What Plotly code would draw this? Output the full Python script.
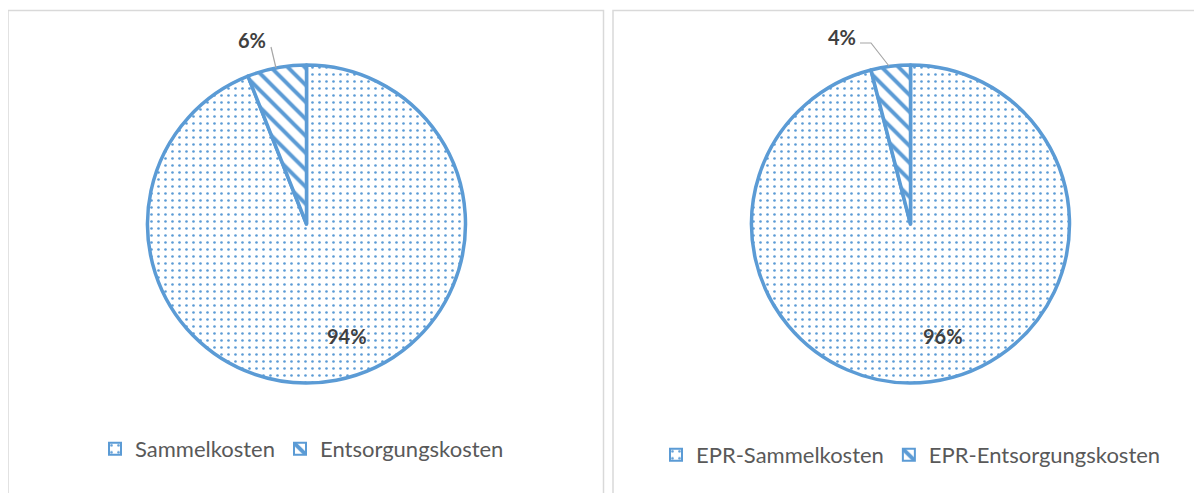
import plotly.graph_objects as go

left_labels = ["Sammelkosten", "Entsorgungskosten"]
left_values = [94, 6]
right_labels = ["EPR-Sammelkosten", "EPR-Entsorgungskosten"]
right_values = [96, 4]

# page has an 8px body margin, so the figure starts at (8, 8)
OFF = 8
W, H = 1202 - OFF, 493 - OFF
BLUE = "#5B9BD5"
LABEL_COLOR = "#404040"
LEGEND_COLOR = "#595959"
FONT = "Lato"

def px_x(x):
    return (x - OFF) / W

def px_y(y):
    return 1 - (y - OFF) / H

def pct(vals):
    tot = sum(vals)
    return [f"{round(v / tot * 100)}%" for v in vals]

def make_pie(labels, values, cx, cy, r, legend):
    return go.Pie(
        labels=labels,
        values=values,
        sort=False,
        direction="clockwise",
        rotation=0,
        textinfo="none",
        hoverinfo="label+percent",
        domain=dict(x=[px_x(cx - r), px_x(cx + r)], y=[px_y(cy + r), px_y(cy - r)]),
        marker=dict(
            colors=["white", "white"],
            line=dict(color=BLUE, width=3.5),
            pattern=dict(
                shape=[".", "\\"],
                fgcolor=BLUE,
                bgcolor="white",
                size=[7, 12],
                solidity=[0.11, 0.33],
                fillmode="replace",
            ),
        ),
        legend=legend,
    )

fig = go.Figure()
fig.add_trace(make_pie(left_labels, left_values, 306.5, 224, 159, "legend"))
fig.add_trace(make_pie(right_labels, right_values, 910.5, 224, 159, "legend2"))

lp = pct(left_values)
rp = pct(right_values)

annotations = [
    dict(x=px_x(347), y=px_y(336), text=f"<b>{lp[0]}</b>"),
    dict(x=px_x(252), y=px_y(40), text=f"<b>{lp[1]}</b>"),
    dict(x=px_x(943), y=px_y(336), text=f"<b>{rp[0]}</b>"),
    dict(x=px_x(842), y=px_y(37), text=f"<b>{rp[1]}</b>"),
]
for a in annotations:
    a.update(xref="paper", yref="paper", showarrow=False,
             font=dict(family=FONT, size=20, color=LABEL_COLOR),
             xanchor="center", yanchor="middle")

shapes = [
    # panel borders
    dict(type="rect", x0=px_x(8), x1=px_x(603.5), y0=px_y(520), y1=px_y(10.5),
         line=dict(color="#D9D9D9", width=1.5), fillcolor="rgba(0,0,0,0)", layer="below"),
    dict(type="rect", x0=px_x(613), x1=px_x(1230), y0=px_y(520), y1=px_y(10.5),
         line=dict(color="#D9D9D9", width=1.5), fillcolor="rgba(0,0,0,0)", layer="below"),
    # leader lines
    dict(type="line", x0=px_x(271), y0=px_y(47), x1=px_x(276), y1=px_y(68),
         line=dict(color="#A6A6A6", width=1.2)),
    dict(type="path", path=f"M {px_x(860)} {px_y(43)} L {px_x(871)} {px_y(43)} L {px_x(889)} {px_y(66)}",
         line=dict(color="#A6A6A6", width=1.2)),
]
for s in shapes:
    s.setdefault("xref", "paper")
    s.setdefault("yref", "paper")

legend_common = dict(
    orientation="h",
    font=dict(family=FONT, size=22, color=LEGEND_COLOR),
    bgcolor="rgba(0,0,0,0)",
    itemsizing="constant",
    itemwidth=30,
    tracegroupgap=0,
    itemclick=False,
    itemdoubleclick=False,
    yanchor="middle",
    xanchor="left",
)

fig.update_layout(
    width=W,
    height=H,
    margin=dict(l=0, r=0, t=0, b=0),
    paper_bgcolor="white",
    plot_bgcolor="white",
    showlegend=True,
    legend=dict(legend_common, x=px_x(95), y=px_y(449)),
    legend2=dict(legend_common, x=px_x(656), y=px_y(455)),
    annotations=annotations,
    shapes=shapes,
)

fig.write_html("out.html")
